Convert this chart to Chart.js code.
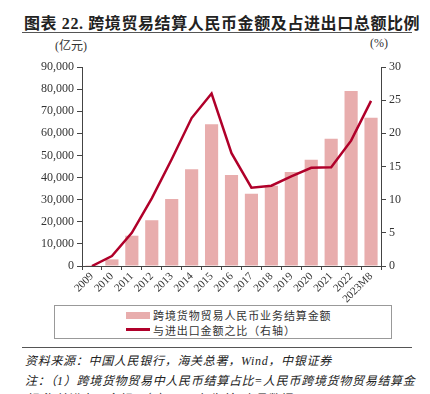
<!DOCTYPE html>
<html>
<head>
<meta charset="utf-8">
<script src="https://cdn.jsdelivr.net/npm/chart.js@4.4.1/dist/chart.umd.min.js"></script>
<style>
  body { margin: 0; width: 430px; height: 394px; overflow: hidden; background: #fff; position: relative;
         font-family: 'Liberation Serif', 'Noto Sans CJK SC', serif; color: #222; }
  .abs { position: absolute; white-space: nowrap; }
  #title { left: 24px; top: 10px; font-size: 16px; font-weight: bold; letter-spacing: 0.6px; }
  .rule { position: absolute; left: 22px; width: 390px; height: 0; border-top: 1.5px solid #555; }
  #chartBox { position: absolute; left: 0; top: 40px; }
  .unit { font-size: 12px; color: #333; }
  #legend { left: 54px; top: 305px; width: 336px; height: 32px; border: 1px solid #999; }
  .sw { position: absolute; left: 71px; width: 24px; }
  .lt { position: absolute; left: 98px; font-size: 11px; letter-spacing: 0.9px; color: #333; }
  .note { left: 25px; font-size: 12px; font-style: italic; letter-spacing: 0.7px; color: #222; }
</style>
</head>
<body>
<div id="title" class="abs">图表 22. 跨境贸易结算人民币金额及占进出口总额比例</div>
<div class="rule" style="top:32px"></div>
<div class="abs unit" style="left:55px;top:36px">(亿元)</div>
<div class="abs unit" style="left:370px;top:36px">(%)</div>
<div id="chartBox"><canvas id="mainChart" width="430" height="265"></canvas></div>
<div id="legend" class="abs">
  <div class="sw" style="top:6px;height:7px;background:#e8adad"></div>
  <div class="lt" style="top:1px">跨境货物贸易人民币业务结算金额</div>
  <div class="sw" style="top:22px;height:2.5px;background:#b0002a"></div>
  <div class="lt" style="top:16px">与进出口金额之比（右轴）</div>
</div>
<div class="rule" style="top:347px"></div>
<div class="abs note" style="top:351px">资料来源：中国人民银行，海关总署，Wind，中银证券</div>
<div class="abs note" style="top:371px">注：（1）跨境货物贸易中人民币结算占比=人民币跨境货物贸易结算金</div>
<div class="abs note" style="top:389px">额/海关进出口金额；（2）2023年为前8个月数据</div>
<script>
// 数据
const years = ['2009','2010','2011','2012','2013','2014','2015','2016','2017','2018','2019','2020','2021','2022','2023M8'];
const settleAmount = [400, 3000, 13700, 20700, 30300, 43700, 64100, 41200, 32700, 36300, 42500, 48000, 57600, 79200, 67100];
const shareRatio = [0.0, 1.5, 5.0, 10.2, 16.1, 22.3, 26.0, 17.0, 11.8, 12.1, 13.5, 14.8, 14.9, 18.9, 24.9];
const leftTicks = [0, 90000, 10000];   // min, max, step
const rightTicks = [0, 30, 5];

const tickFont = { family: "'Liberation Serif', serif", size: 12 };
const axisColor = '#444';

const ctx = document.getElementById('mainChart').getContext('2d');
new Chart(ctx, {
    type: 'bar',
    data: {
        labels: years,
        datasets: [
            {
                type: 'line',
                label: '与进出口金额之比（右轴）',
                data: shareRatio,
                yAxisID: 'y1',
                borderColor: '#b0002a',
                borderWidth: 2.5,
                pointRadius: 0,
                tension: 0,
                fill: false
            },
            {
                label: '跨境货物贸易人民币业务结算金额',
                data: settleAmount,
                yAxisID: 'y',
                backgroundColor: '#e8adad',
                categoryPercentage: 1,
                barPercentage: 0.66
            }
        ]
    },
    options: {
        responsive: false,
        devicePixelRatio: 1,
        animation: false,
        locale: 'en-US',
        layout: { padding: { top: 27, left: 0, right: 0, bottom: 0 } },
        plugins: { legend: { display: false }, tooltip: { enabled: false } },
        scales: {
            x: {
                grid: { drawOnChartArea: false, drawTicks: true, tickLength: 4, color: axisColor, offset: true },
                border: { color: axisColor, width: 1 },
                ticks: { font: { family: "'Liberation Serif', serif", size: 11 }, color: '#333', minRotation: 45, maxRotation: 45, padding: 0, autoSkip: false },
                afterFit: function(axis) { axis.height = 39; }
            },
            y: {
                position: 'left',
                min: leftTicks[0], max: leftTicks[1],
                ticks: { stepSize: leftTicks[2], font: tickFont, color: '#333', padding: 3 },
                grid: { drawOnChartArea: false, drawTicks: true, tickLength: 5, color: axisColor },
                border: { color: axisColor, width: 1 },
                afterFit: function(axis) { axis.width = 82; }
            },
            y1: {
                position: 'right',
                min: rightTicks[0], max: rightTicks[1],
                ticks: { stepSize: rightTicks[2], font: tickFont, color: '#333', padding: 3 },
                grid: { drawOnChartArea: false, drawTicks: true, tickLength: 5, color: axisColor },
                border: { color: axisColor, width: 1 },
                afterFit: function(axis) { axis.width = 49; }
            }
        }
    }
});
</script>
</body>
</html>
